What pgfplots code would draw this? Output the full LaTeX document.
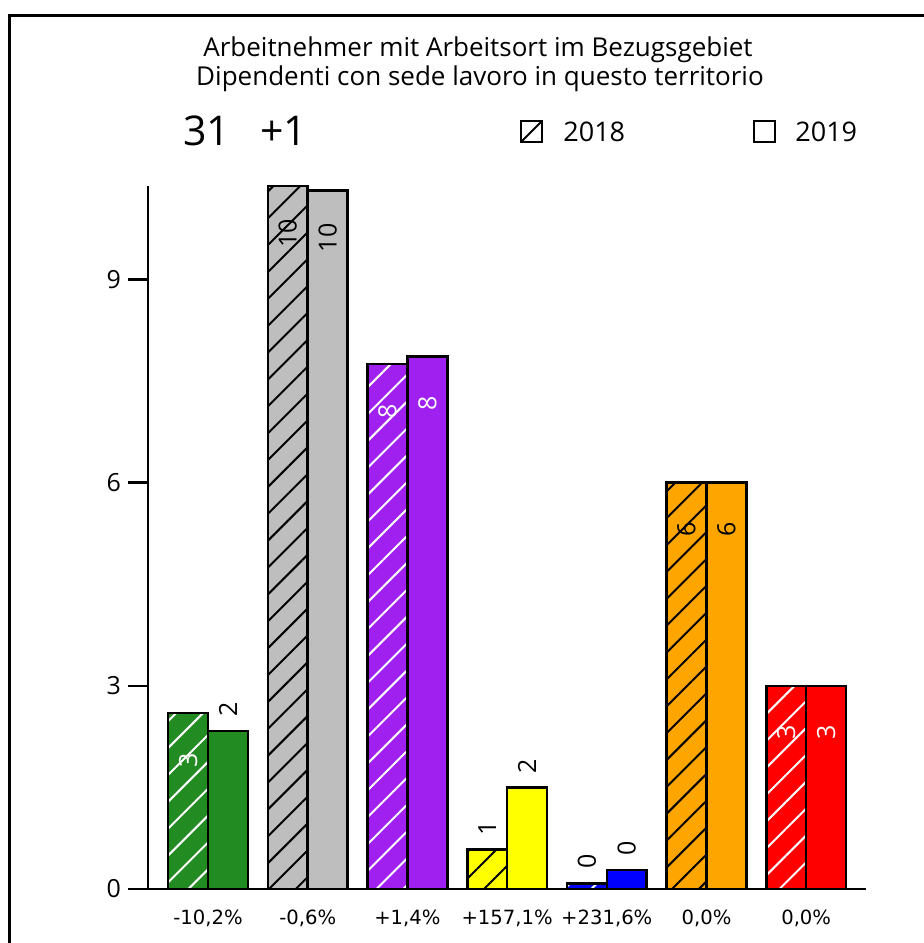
\documentclass[border=0pt]{standalone}
\usepackage{fontspec}
\setmainfont{Open Sans}
\newfontfamily\pctfont{DejaVu Sans}
\usepackage{pgfplots}
\pgfplotsset{compat=1.18}
\usetikzlibrary{patterns.meta}

\definecolor{cgreen}{RGB}{34,139,34}
\definecolor{cgrey}{RGB}{190,190,190}
\definecolor{cpurple}{RGB}{160,32,240}
\definecolor{cyellow}{RGB}{255,255,0}
\definecolor{cblue}{RGB}{0,0,255}
\definecolor{corange}{RGB}{255,165,0}
\definecolor{cred}{RGB}{255,0,0}

\newcommand\labfont{\fontsize{12.5}{14}\selectfont}
\pgfplotsset{
  b18/.style 2 args={ybar, bar width=0.4, bar shift=0, draw=black, line width=1.3pt,
    preaction={fill=#1}, pattern={Lines[angle=45,distance=9.5pt,line width=1pt]}, pattern color=#2},
  b19/.style={ybar, bar width=0.4, bar shift=0, draw=black, line width=1.3pt, fill=#1},
  lin/.style={nodes near coords, point meta=explicit symbolic,
    every node near coord/.append style={font=\labfont, text=#1, yshift=-23.5pt, rotate=90, anchor=center, inner sep=0pt}},
  lout/.style={nodes near coords, point meta=explicit symbolic,
    every node near coord/.append style={font=\labfont, text=black, yshift=10.75pt, rotate=90, anchor=center, inner sep=0pt}},
}

\begin{document}
\begin{tikzpicture}
\useasboundingbox (0,0) rectangle (461.5pt,-471.5pt);
\draw[line width=1.5pt] (4.5pt,-475pt) -- (4.5pt,-7.5pt) -- (465pt,-7.5pt);

\node[anchor=base, font=\fontsize{13}{16}\selectfont] at (239pt,-28pt) {Arbeitnehmer mit Arbeitsort im Bezugsgebiet};
\node[anchor=base, font=\fontsize{13}{16}\selectfont] at (240pt,-42.5pt) {Dipendenti con sede lavoro in questo territorio};

\node[anchor=base west, font=\fontsize{20.5}{24}\selectfont, inner sep=0pt] at (91.5pt,-72.5pt) {31};
\node[anchor=base west, font=\fontsize{20.5}{24}\selectfont, inner sep=0pt] at (130pt,-72.5pt) {+1};

\draw[line width=1.2pt] (260.5pt,-71pt) rectangle (271pt,-60.5pt);
\draw[line width=1pt] (260.5pt,-71pt) -- (271pt,-60.5pt);
\node[anchor=base west, font=\fontsize{13.5}{16}\selectfont, inner sep=0pt] at (281.5pt,-70.5pt) {2018};
\draw[line width=1.2pt] (377pt,-71pt) rectangle (387.5pt,-60.5pt);
\node[anchor=base west, font=\fontsize{13.5}{16}\selectfont, inner sep=0pt] at (397.5pt,-70.5pt) {2019};

\begin{axis}[
  at={(74pt,-444.5pt)}, anchor=south west,
  scale only axis, width=359pt, height=351.5pt,
  xmin=-0.602, xmax=6.6, ymin=0, ymax=10.38,
  axis x line*=bottom, axis y line*=left,
  axis line style={line width=1.3pt, -},
  ytick={0,3,6,9},
  tick align=outside, major tick length=10pt,
  ytick style={line width=1.3pt, black},
  /pgf/number format/assume math mode=true,
  yticklabel style={font=\fontsize{12.5}{14}\selectfont},
  xtick={0,1,2,3,4,5,6},
  xticklabels={{-10,2\%},{-0,6\%},{+1,4\%},{+157,1\%},{+231,6\%},{0,0\%},{0,0\%}},
  xtick style={draw=none},
  xticklabel style={font=\pctfont\fontsize{9.8}{11}\selectfont, yshift=3pt},
  clip=false,
]
% green
\addplot[b18={cgreen}{white}, lin=white] coordinates {(-0.2,2.6) [3]};
\addplot[b19=cgreen, lout] coordinates {(0.2,2.335) [2]};
% grey
\addplot[b18={cgrey}{black}, lin=black] coordinates {(0.8,10.38) [10]};
\addplot[b19=cgrey, lin=black] coordinates {(1.2,10.31) [10]};
% purple
\addplot[b18={cpurple}{white}, lin=white] coordinates {(1.8,7.75) [8]};
\addplot[b19=cpurple, lin=white] coordinates {(2.2,7.86) [8]};
% yellow
\addplot[b18={cyellow}{black}, lout] coordinates {(2.8,0.583) [1]};
\addplot[b19=cyellow, lout] coordinates {(3.2,1.5) [2]};
% blue
\addplot[b18={cblue}{white}, lout] coordinates {(3.8,0.085) [0]};
\addplot[b19=cblue, lout] coordinates {(4.2,0.282) [0]};
% orange
\addplot[b18={corange}{black}, lin=black] coordinates {(4.8,6) [6]};
\addplot[b19=corange, lin=black] coordinates {(5.2,6) [6]};
% red
\addplot[b18={cred}{white}, lin=white] coordinates {(5.8,3) [3]};
\addplot[b19=cred, lin=white] coordinates {(6.2,3) [3]};
\end{axis}
\end{tikzpicture}
\end{document}
